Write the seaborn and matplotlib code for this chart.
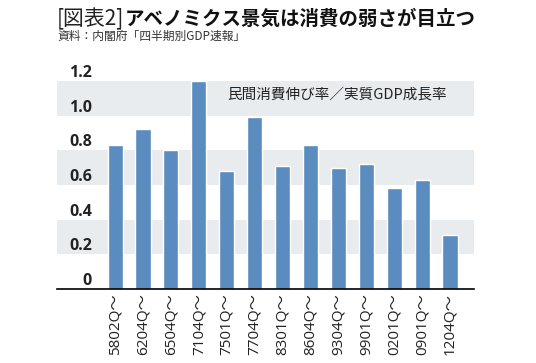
import matplotlib
matplotlib.use("Agg")
import matplotlib.pyplot as plt
import seaborn as sns
import pandas as pd

# quarter labels (start of each expansion) and consumption/GDP ratio
periods = ["5802Q〜", "6204Q〜", "6504Q〜", "7104Q〜", "7501Q〜", "7704Q〜", "8301Q〜",
           "8604Q〜", "9304Q〜", "9901Q〜", "0201Q〜", "0901Q〜", "1204Q〜"]
ratio = [0.83, 0.925, 0.80, 1.20, 0.68, 0.99, 0.71, 0.83, 0.70, 0.72, 0.58, 0.63, 0.31]
yticks = [0, 0.2, 0.4, 0.6, 0.8, 1.0, 1.2]
ytick_labels = ["0", "0.2", "0.4", "0.6", "0.8", "1.0", "1.2"]

df = pd.DataFrame({"period": periods, "ratio": ratio})

sns.set_theme(style="white")
plt.rcParams["font.family"] = ["Noto Sans CJK JP", "DejaVu Sans"]

W, H = 536, 363
fig = plt.figure(figsize=(W / 100, H / 100), dpi=100)
ax = fig.add_axes([57 / W, 1 - 289 / H, (474 - 57) / W, (289 - 81) / H])

# alternating gray bands
for lo in [0.2, 0.6, 1.0]:
    ax.axhspan(lo, lo + 0.2, color="#e9ecef", lw=0, zorder=0)

sns.barplot(data=df, x="period", y="ratio", color="#5b8cbf", saturation=1,
            width=0.54, ax=ax, zorder=2)

ax.set_xlim(-2.08, 12.86)
ax.set_ylim(0, 1.2)
ax.set_xlabel("")
ax.set_ylabel("")
ax.set_yticks([])
for s in ["top", "left", "right"]:
    ax.spines[s].set_visible(False)
ax.spines["bottom"].set_color("black")
ax.spines["bottom"].set_linewidth(1.2)

ax.tick_params(axis="x", length=0, pad=3)
ax.set_xticks(range(len(periods)))
ax.set_xticklabels(periods, rotation=90, fontsize=11, color="#222222",
                   family=["Open Sans", "Noto Sans CJK JP"])

# y labels sit just above their lines, inside the plot area
trans = ax.get_yaxis_transform()
for v, lab in zip(yticks, ytick_labels):
    ax.text(0.084, v + 0.046, lab, transform=trans, ha="right", va="center",
            fontsize=11.5, fontweight="bold", color="#222222",
            family=["Open Sans", "DejaVu Sans"])

fig.text(227 / W, 1 - 95 / H, "民間消費伸び率／実質GDP成長率", fontsize=10.5,
         color="#222222", va="center", ha="left")

fig.text(57 / W, 1 - 19 / H, "[図表2]", fontsize=15, color="#222222", va="center", ha="left")
fig.text(125 / W, 1 - 19 / H, "アベノミクス景気は消費の弱さが目立つ", fontsize=14,
         fontweight="bold", color="#111111", va="center", ha="left")
fig.text(57 / W, 1 - 36 / H, "資料：内閣府「四半期別GDP速報」", fontsize=8.5,
         color="#333333", va="center", ha="left")

fig.savefig("out.png", dpi=100)
